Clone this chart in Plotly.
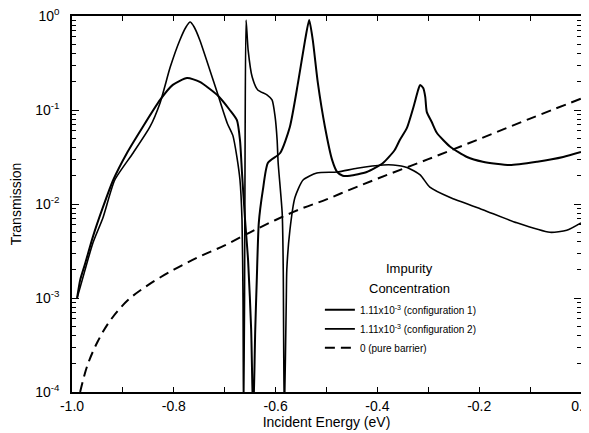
import plotly.graph_objects as go

# ---------------- data ----------------
energy_c1 = [-0.99, -0.984, -0.974, -0.959, -0.939, -0.919, -0.892, -0.861, -0.827, -0.802,
             -0.774, -0.749, -0.715, -0.690, -0.676, -0.670, -0.666, -0.660, -0.654, -0.648,
             -0.644, -0.640, -0.637, -0.633, -0.625, -0.615, -0.591, -0.572, -0.556, -0.542,
             -0.534, -0.527, -0.517, -0.503, -0.489, -0.479, -0.468, -0.454, -0.421, -0.389,
             -0.366, -0.356, -0.342, -0.328, -0.320, -0.316, -0.310, -0.306, -0.303, -0.293,
             -0.283, -0.257, -0.224, -0.193, -0.140, -0.086, -0.035, 0.0]
trans_c1 = [1.0e-3, 1.55e-3, 2.34e-3, 4.47e-3, 9.3e-3, 1.8e-2, 3.49e-2, 6.6e-2, 0.128, 0.185,
            0.219, 0.199, 0.145, 0.100, 0.078, 0.048, 0.0214, 6.8e-3, 2.5e-3, 4.6e-4,
            5e-5, 4.6e-4, 1.55e-3, 6.3e-3, 1.41e-2, 2.75e-2, 3.49e-2, 6.6e-2, 0.194, 0.556,
            0.906, 0.556, 0.194, 0.066, 0.0295, 0.0219, 0.020, 0.020, 0.0219, 0.0273,
            0.0375, 0.048, 0.0646, 0.113, 0.163, 0.185, 0.171, 0.138, 0.0955, 0.074,
            0.0569, 0.0407, 0.0316, 0.0282, 0.026, 0.0282, 0.0316, 0.0357]

energy_c2 = [-0.99, -0.980, -0.959, -0.939, -0.916, -0.880, -0.847, -0.827, -0.807, -0.788,
             -0.776, -0.768, -0.760, -0.749, -0.715, -0.695, -0.684, -0.676, -0.670, -0.666,
             -0.664, -0.663, -0.661, -0.660, -0.658, -0.654, -0.646, -0.635, -0.617, -0.607,
             -0.601, -0.597, -0.595, -0.587, -0.585, -0.583, -0.579, -0.578, -0.572, -0.562,
             -0.546, -0.519, -0.479, -0.440, -0.389, -0.369, -0.342, -0.316, -0.297, -0.257,
             -0.193, -0.126, -0.061, -0.028, 0.0]
trans_c2 = [1.0e-3, 1.55e-3, 3.85e-3, 7.2e-3, 1.8e-2, 3.49e-2, 6.6e-2, 0.119, 0.286, 0.556,
            0.764, 0.863, 0.764, 0.556, 0.155, 0.0724, 0.0537, 0.0316, 0.018, 6.8e-3,
            9.5e-4, 5e-5, 1.0e-3, 0.037, 0.906, 0.437, 0.224, 0.163, 0.145, 0.128,
            0.085, 0.048, 0.0275, 7.9e-3, 2.0e-3, 5e-5, 9.5e-4, 2.0e-3, 5.2e-3, 1.17e-2,
            1.8e-2, 2.14e-2, 2.19e-2, 2.4e-2, 2.6e-2, 2.6e-2, 2.45e-2, 2.04e-2, 1.51e-2, 1.17e-2,
            8.7e-3, 6.3e-3, 5.0e-3, 5.25e-3, 6.3e-3]

energy_pure = [-0.984, -0.97, -0.95, -0.925, -0.89, -0.85, -0.80, -0.75, -0.70, -0.65,
               -0.60, -0.55, -0.50, -0.45, -0.40, -0.30, -0.20, -0.10, 0.0]
trans_pure = [1.0e-4, 1.9e-4, 3.4e-4, 5.75e-4, 9.5e-4, 1.38e-3, 2.0e-3, 2.75e-3, 3.63e-3, 5.0e-3,
              6.76e-3, 8.9e-3, 1.12e-2, 1.45e-2, 1.86e-2, 3.0e-2, 4.9e-2, 8.1e-2, 0.132]

series_names = ["1.11x10<sup>-3</sup> (configuration 1)",
                "1.11x10<sup>-3</sup> (configuration 2)",
                "0 (pure barrier)"]

x_tick_vals = [-1.0, -0.8, -0.6, -0.4, -0.2, 0.0]
x_tick_text = ["-1.0", "-0.8", "-0.6", "-0.4", "-0.2", "0.0"]
y_tick_vals = [1e-4, 1e-3, 1e-2, 1e-1, 1]
y_tick_text = ["10<sup>-4</sup>", "10<sup>-3</sup>", "10<sup>-2</sup>", "10<sup>-1</sup>", "10<sup>0</sup>"]
y_minor_vals = [m * 10.0 ** e for e in (-4, -3, -2, -1) for m in range(2, 10)]

# ---------------- figure ----------------
FONT = "Liberation Sans, Arial, Helvetica, sans-serif"

fig = go.Figure()
fig.add_trace(go.Scatter(x=energy_c1, y=trans_c1, mode="lines", name=series_names[0],
                         line=dict(color="black", width=2.0, shape="spline", smoothing=0.6)))
fig.add_trace(go.Scatter(x=energy_c2, y=trans_c2, mode="lines", name=series_names[1],
                         line=dict(color="black", width=1.6, shape="spline", smoothing=0.6)))
fig.add_trace(go.Scatter(x=energy_pure, y=trans_pure, mode="lines", name=series_names[2],
                         line=dict(color="black", width=2.0, dash="10px,6px", shape="spline")))

axis_common = dict(showgrid=False, zeroline=False, showline=True, linecolor="black",
                   linewidth=1.5, mirror="ticks", ticks="inside", tickcolor="black",
                   automargin=False, ticklabeloverflow="allow",
                   tickfont=dict(family=FONT, size=14, color="black"))

fig.update_xaxes(range=[-1.0, 0.0], tickmode="array", tickvals=x_tick_vals, ticktext=x_tick_text,
                 ticklen=5, tickwidth=1.2,
                 minor=dict(ticks="inside", ticklen=5, tickwidth=1.2, tickcolor="black",
                            dtick=0.1, tick0=0, showgrid=False),
                 title=dict(text="Incident Energy (eV)", font=dict(family=FONT, size=14, color="black"),
                            standoff=2),
                 **axis_common)
fig.update_yaxes(type="log", range=[-4, 0], tickmode="array", tickvals=y_tick_vals, ticktext=y_tick_text,
                 ticklen=7, tickwidth=1.2, ticklabelstandoff=8,
                 minor=dict(ticks="inside", ticklen=4, tickcolor="black", tickwidth=1, showgrid=False,
                            tickmode="array", tickvals=y_minor_vals),
                 title=dict(text="Transmission", font=dict(family=FONT, size=14, color="black"),
                            standoff=11),
                 **axis_common)

fig.add_annotation(text="Impurity", x=0.664, y=0.303, xref="paper", yref="paper",
                   showarrow=False, font=dict(family=FONT, size=13, color="black"))
fig.add_annotation(text="Concentration", x=0.664, y=0.250, xref="paper", yref="paper",
                   showarrow=False, font=dict(family=FONT, size=13, color="black"))

# the page body adds an 8 px offset, so the figure is 8 px smaller and its margins compensate
fig.update_layout(
    width=581, height=425,
    margin=dict(l=64, r=8, t=8, b=41),
    paper_bgcolor="white", plot_bgcolor="white",
    showlegend=True,
    legend=dict(x=0.487, y=0.257, xanchor="left", yanchor="top", bgcolor="rgba(0,0,0,0)",
                font=dict(family=FONT, size=10, color="black"), itemwidth=30),
    font=dict(family=FONT, color="black"),
)

fig.write_html("out.html")
